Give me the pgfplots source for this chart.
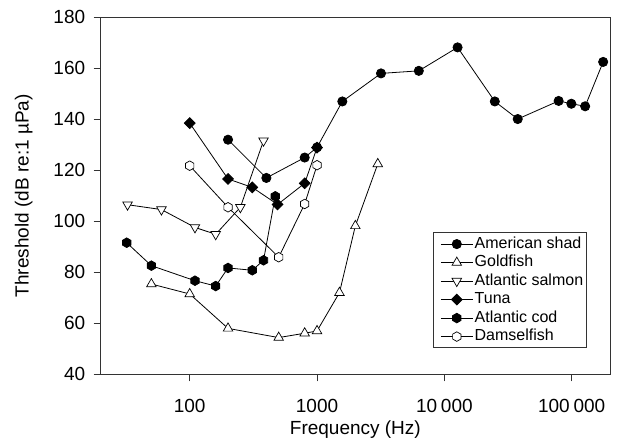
\documentclass[border=0pt]{standalone}
\usepackage{fontspec}
\setmainfont{Liberation Sans}
\usepackage{pgfplots}
\pgfplotsset{compat=1.18}

% hexagon mark, pointy top
\pgfdeclareplotmark{hexagon}{%
  \pgfpathmoveto{\pgfqpointpolar{90}{\pgfplotmarksize}}%
  \pgfpathlineto{\pgfqpointpolar{150}{\pgfplotmarksize}}%
  \pgfpathlineto{\pgfqpointpolar{210}{\pgfplotmarksize}}%
  \pgfpathlineto{\pgfqpointpolar{270}{\pgfplotmarksize}}%
  \pgfpathlineto{\pgfqpointpolar{330}{\pgfplotmarksize}}%
  \pgfpathlineto{\pgfqpointpolar{30}{\pgfplotmarksize}}%
  \pgfpathclose
  \pgfusepathqfillstroke}

\definecolor{axgray}{gray}{0.2}

\begin{document}
\begin{tikzpicture}
\useasboundingbox (-100.7pt,-68.7pt) rectangle (522.3pt,374.3pt);
\begin{axis}[
    scale only axis,
    width=509.3pt, height=357pt,
    xmode=log, log basis x=10,
    xmin=20, xmax=200000,
    ymin=40, ymax=180,
    xtick={100,1000,10000,100000},
    xticklabels={100,1000,10\hspace{0.2em}000,100\hspace{0.2em}000},
    ytick={40,60,...,180},
    xminorticks=false,
    xtick pos=bottom, ytick pos=left,
    tick align=outside,
    major tick length=7pt,
    tick style={draw=axgray, line width=0.8pt},
    axis line style={draw=axgray, line width=1pt},
    /pgf/number format/assume math mode=true,
    ticklabel style={font=\fontsize{19}{22}\selectfont},
    xticklabel shift=14pt,
    yticklabel shift=5pt,
    label style={font=\fontsize{19}{22}\selectfont},
    xlabel shift=2pt,
    ylabel shift=14pt,
    xlabel={Frequency (Hz)},
    ylabel={Threshold (dB re:1 µPa)},
    legend cell align=left,
    legend style={at={(rel axis cs:0.955,0.073)}, anchor=south east,
        draw=axgray, line width=0.8pt,
        font=\fontsize{16}{18}\selectfont,
        inner xsep=2pt, inner ysep=2pt, row sep=0pt,
        nodes={inner sep=1.5pt, text height=12pt, text depth=3.5pt}},
    legend image code/.code={%
        \path (-5pt,0pt);
        \draw[mark repeat=2, mark phase=2] plot coordinates {(0pt,0pt) (16pt,0pt) (32pt,0pt)};},
    every axis plot/.append style={black, line width=0.8pt},
]

% American shad
\addplot[mark=*, mark size=4.6pt] coordinates {
 (200,132) (400,117) (800,125) (1000,129) (1580,147) (3180,158) (6300,159)
 (12700,168.2) (24900,147) (37700,140.1) (79000,147.2) (99400,146.1)
 (127600,145.1) (176700,162.5)};

% Goldfish
\addplot[mark=triangle*, mark size=5.5pt, mark options={fill=white, line width=0.7pt}] coordinates {
 (50,75.4) (100,71.5) (200,58) (500,54.4) (800,56.1) (1000,57) (1500,72)
 (2000,98.2) (3000,122.5)};

% Atlantic salmon
\addplot[mark=triangle*, mark size=5.5pt, mark options={fill=white, rotate=180, line width=0.7pt}] coordinates {
 (32.5,106.5) (60,104.6) (110,97.6) (160,94.9) (250,105.5) (380,131.6)};

% Tuna
\addplot[mark=square*, mark size=3.8pt, mark options={rotate=45}] coordinates {
 (100,138.5) (200,116.6) (310,113.3) (490,106.6) (800,114.9) (1000,128.9)};

% Atlantic cod
\addplot[mark=hexagon, mark size=4.8pt, mark options={fill=black}] coordinates {
 (32,91.6) (50,82.6) (110,76.7) (160,74.6) (200,81.7) (310,80.8) (380,84.7) (470,109.8)};

% Damselfish
\addplot[mark=hexagon, mark size=4.8pt, mark options={fill=white, line width=0.7pt}] coordinates {
 (100,121.8) (200,105.5) (500,85.9) (800,106.8) (1000,122)};

\legend{American shad, Goldfish, Atlantic salmon, Tuna, Atlantic cod, Damselfish}
\end{axis}
\end{tikzpicture}
\end{document}
